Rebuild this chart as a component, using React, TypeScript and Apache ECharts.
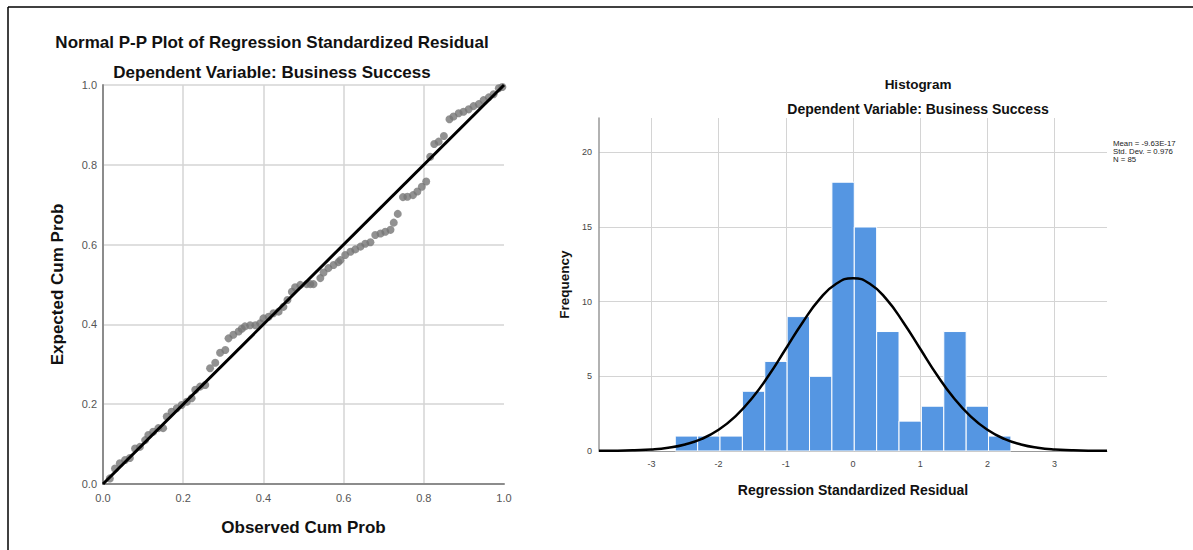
import React, { useEffect, useRef } from "react";
import * as echarts from "echarts";

// P-P plot points (observed cum prob, expected cum prob)
const observedCum = [
  0.017, 0.03, 0.042, 0.055, 0.067, 0.08, 0.092, 0.105, 0.113, 0.125,
  0.138, 0.15, 0.159, 0.171, 0.184, 0.196, 0.209, 0.221, 0.23, 0.242,
  0.255, 0.267, 0.28, 0.292, 0.305, 0.313, 0.325, 0.338, 0.346, 0.354,
  0.367, 0.38, 0.392, 0.4, 0.413, 0.425, 0.438, 0.45, 0.46, 0.471,
  0.479, 0.492, 0.508, 0.517, 0.525, 0.542, 0.55, 0.562, 0.575, 0.587,
  0.592, 0.604, 0.617, 0.629, 0.642, 0.654, 0.667, 0.679, 0.692, 0.704,
  0.717, 0.725, 0.735, 0.748, 0.759, 0.773, 0.784, 0.795, 0.806, 0.816,
  0.826, 0.837, 0.85, 0.864, 0.874, 0.887, 0.899, 0.912, 0.924, 0.937,
  0.949, 0.962, 0.974, 0.987, 0.996,
];
const expectedCum = [
  0.014, 0.039, 0.052, 0.06, 0.065, 0.089, 0.093, 0.11, 0.123, 0.131,
  0.14, 0.14, 0.169, 0.181, 0.19, 0.198, 0.206, 0.215, 0.236, 0.244,
  0.248, 0.29, 0.304, 0.329, 0.336, 0.365, 0.374, 0.382, 0.389, 0.395,
  0.398, 0.398, 0.403, 0.415, 0.419, 0.428, 0.432, 0.444, 0.461, 0.482,
  0.493, 0.499, 0.501, 0.501, 0.501, 0.516, 0.53, 0.541, 0.549, 0.556,
  0.561, 0.574, 0.582, 0.588, 0.595, 0.602, 0.606, 0.624, 0.628, 0.632,
  0.637, 0.655, 0.677, 0.719, 0.72, 0.724, 0.733, 0.745, 0.758, 0.82,
  0.852, 0.858, 0.872, 0.914, 0.921, 0.929, 0.933, 0.939, 0.947, 0.952,
  0.962, 0.969, 0.977, 0.992, 0.995,
];
const diagonal = [
  [0, 0],
  [1, 1],
];

// Histogram bins
const binStarts = [
  -2.645, -2.312, -1.979, -1.646, -1.313, -0.98, -0.647, -0.314, 0.019, 0.352,
  0.685, 1.018, 1.351, 1.684, 2.017,
];
const binWidth = 0.333;
const binCounts = [1, 1, 1, 4, 6, 9, 5, 18, 15, 8, 2, 3, 8, 3, 1];

// Normal curve
const curveX = [
  -3.78, -3.5, -3.25, -3, -2.75, -2.5, -2.25, -2, -1.75, -1.5, -1.25, -1, -0.75,
  -0.5, -0.25, 0, 0.25, 0.5, 0.75, 1, 1.25, 1.5, 1.75, 2, 2.25, 2.5, 2.75, 3,
  3.25, 3.5, 3.78,
];
const curveY = [
  0.01, 0.02, 0.05, 0.1, 0.22, 0.44, 0.81, 1.42, 2.32, 3.55, 5.09, 6.85, 8.61,
  10.15, 11.2, 11.57, 11.2, 10.15, 8.61, 6.85, 5.09, 3.55, 2.32, 1.42, 0.81,
  0.44, 0.22, 0.1, 0.05, 0.02, 0.01,
];

const statsLines = ["Mean = -9.63E-17", "Std. Dev. = 0.976", "N = 85"];

const FONT = "'Liberation Sans', Arial, sans-serif";

export default function App() {
  const ref = useRef<HTMLDivElement>(null);
  useEffect(() => {
    if (!ref.current) return;
    const chart = echarts.init(ref.current, undefined, { renderer: "svg" });
    const histData = binStarts.map((s, i) => [s, +(s + binWidth).toFixed(3), binCounts[i]]);
    const option: any = {
      animation: false,
      backgroundColor: "#ffffff",
      textStyle: { fontFamily: FONT },
      grid: [
        { left: 103, top: 85, width: 401, height: 399 },
        { left: 599, top: 118, width: 508, height: 333 },
      ],
      xAxis: [
        {
          gridIndex: 0,
          type: "value",
          min: 0,
          max: 1,
          interval: 0.2,
          name: "Observed Cum Prob",
          nameLocation: "middle",
          nameGap: 35,
          nameTextStyle: { fontSize: 17, fontWeight: "bold", color: "#111", fontFamily: FONT },
          axisLine: { show: true, onZero: false, lineStyle: { color: "#8c8c8c", width: 2 } },
          axisTick: { show: false },
          axisLabel: {
            color: "#555",
            fontSize: 11,
            margin: 8,
            fontFamily: FONT,
            formatter: (v: number) => v.toFixed(1),
          },
          splitLine: { show: true, showMaxLine: false, lineStyle: { color: "#d4d4d4", width: 1.5 } },
        },
        {
          gridIndex: 1,
          type: "value",
          min: -3.78,
          max: 3.78,
          minInterval: 1,
          maxInterval: 1,
          name: "Regression Standardized Residual",
          nameLocation: "middle",
          nameGap: 32,
          nameTextStyle: { fontSize: 14, fontWeight: "bold", color: "#111", fontFamily: FONT },
          axisLine: { show: true, onZero: false, lineStyle: { color: "#999", width: 1 } },
          axisTick: { show: false },
          axisLabel: {
            color: "#444",
            fontSize: 9,
            margin: 8,
            fontFamily: FONT,
            showMinLabel: false,
            showMaxLabel: false,
          },
          splitLine: {
            show: true,
            showMinLine: false,
            showMaxLine: false,
            lineStyle: { color: "#d4d4d4", width: 1 },
          },
        },
      ],
      yAxis: [
        {
          gridIndex: 0,
          type: "value",
          min: 0,
          max: 1,
          interval: 0.2,
          name: "Expected Cum Prob",
          nameLocation: "middle",
          nameGap: 37,
          nameTextStyle: { fontSize: 17, fontWeight: "bold", color: "#111", fontFamily: FONT },
          axisLine: { show: true, onZero: false, lineStyle: { color: "#8c8c8c", width: 2 } },
          axisTick: { show: false },
          axisLabel: {
            color: "#555",
            fontSize: 11,
            margin: 6,
            fontFamily: FONT,
            formatter: (v: number) => v.toFixed(1),
          },
          splitLine: { show: true, lineStyle: { color: "#d4d4d4", width: 1.5 } },
        },
        {
          gridIndex: 1,
          type: "value",
          min: 0,
          max: 22.3,
          minInterval: 5,
          maxInterval: 5,
          name: "Frequency",
          nameLocation: "middle",
          nameGap: 28,
          nameTextStyle: { fontSize: 13.5, fontWeight: "bold", color: "#111", fontFamily: FONT },
          axisLine: { show: true, onZero: false, lineStyle: { color: "#999", width: 1.5 } },
          axisTick: { show: false },
          axisLabel: {
            color: "#444",
            fontSize: 9,
            margin: 7,
            fontFamily: FONT,
            showMaxLabel: false,
          },
          splitLine: {
            show: true,
            showMaxLine: false,
            lineStyle: { color: "#d4d4d4", width: 1 },
          },
        },
      ],
      series: [
        {
          type: "scatter",
          xAxisIndex: 0,
          yAxisIndex: 0,
          data: observedCum.map((x, i) => [x, expectedCum[i]]),
          symbol: "circle",
          symbolSize: 8,
          itemStyle: { color: "#767676" },
          z: 2,
        },
        {
          type: "line",
          xAxisIndex: 0,
          yAxisIndex: 0,
          data: diagonal,
          symbol: "none",
          lineStyle: { color: "#000", width: 3 },
          z: 3,
        },
        {
          type: "custom",
          xAxisIndex: 1,
          yAxisIndex: 1,
          data: histData,
          encode: { x: [0, 1], y: 2 },
          renderItem: (params: any, api: any) => {
            const p0 = api.coord([api.value(0), api.value(2)]);
            const p1 = api.coord([api.value(1), 0]);
            return {
              type: "rect",
              shape: { x: p0[0], y: p0[1], width: p1[0] - p0[0], height: p1[1] - p0[1] },
              style: { fill: "#5596e2", stroke: "#ffffff", lineWidth: 1 },
            };
          },
          z: 2,
        },
        {
          type: "line",
          xAxisIndex: 1,
          yAxisIndex: 1,
          data: curveX.map((x, i) => [x, curveY[i]]),
          smooth: true,
          symbol: "none",
          lineStyle: { color: "#000", width: 2.5 },
          z: 3,
        },
      ],
      graphic: [
        { type: "line", shape: { x1: 8, y1: 7, x2: 1193, y2: 7 }, style: { stroke: "#000", lineWidth: 1.5 } },
        { type: "line", shape: { x1: 8, y1: 7, x2: 8, y2: 550 }, style: { stroke: "#000", lineWidth: 1.5 } },
        {
          type: "text",
          x: 272,
          y: 42,
          style: {
            text: "Normal P-P Plot of Regression Standardized Residual",
            fontSize: 17,
            fontWeight: "bold",
            fontFamily: FONT,
            fill: "#111",
            textAlign: "center",
            textVerticalAlign: "middle",
          },
        },
        {
          type: "text",
          x: 272,
          y: 72,
          style: {
            text: "Dependent Variable: Business Success",
            fontSize: 17,
            fontWeight: "bold",
            fontFamily: FONT,
            fill: "#111",
            textAlign: "center",
            textVerticalAlign: "middle",
          },
        },
        {
          type: "text",
          x: 918,
          y: 84,
          style: {
            text: "Histogram",
            fontSize: 13.5,
            fontWeight: "bold",
            fontFamily: FONT,
            fill: "#111",
            textAlign: "center",
            textVerticalAlign: "middle",
          },
        },
        {
          type: "text",
          x: 918,
          y: 109,
          style: {
            text: "Dependent Variable: Business Success",
            fontSize: 14,
            fontWeight: "bold",
            fontFamily: FONT,
            fill: "#111",
            textAlign: "center",
            textVerticalAlign: "middle",
          },
        },
        ...statsLines.map((t, i) => ({
          type: "text",
          x: 1113,
          y: 143 + i * 8,
          style: {
            text: t,
            fontSize: 7.8,
            fontFamily: FONT,
            fill: "#222",
            textAlign: "left",
            textVerticalAlign: "middle",
          },
        })),
      ],
    };
    chart.setOption(option);
    return () => chart.dispose();
  }, []);
  return (
    <div
      ref={ref}
      style={{ position: "fixed", left: 0, top: 0, width: 1193, height: 550, background: "#fff" }}
    />
  );
}
